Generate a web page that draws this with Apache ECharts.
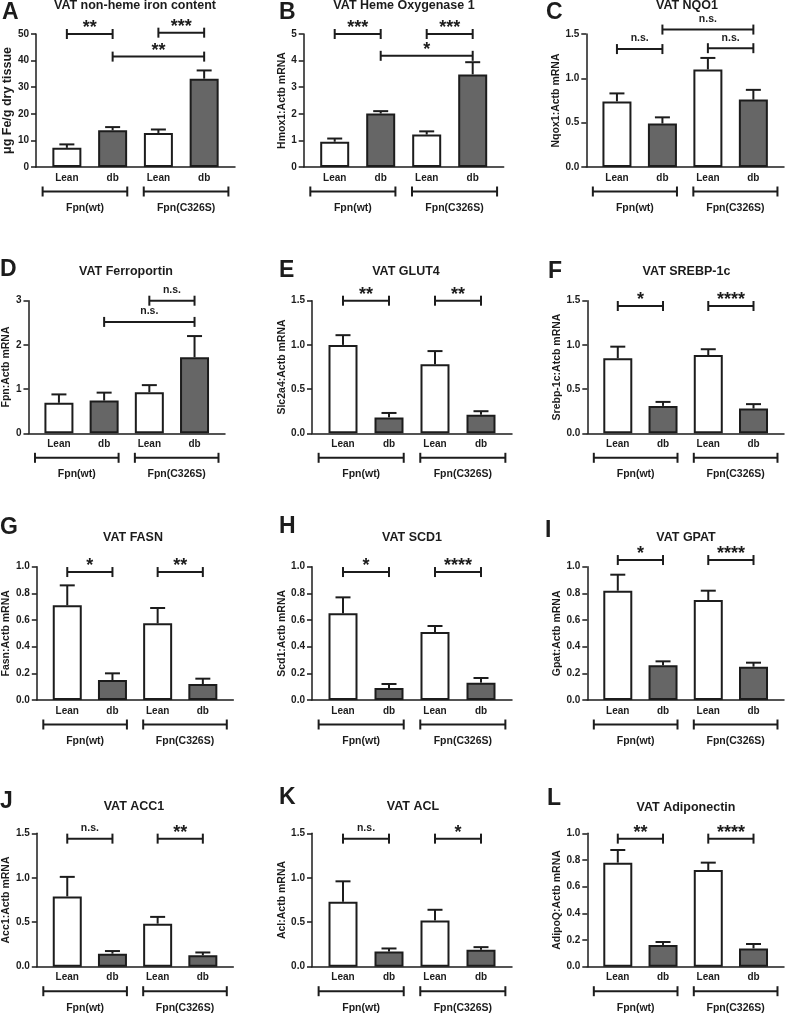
<!DOCTYPE html>
<html><head><meta charset="utf-8">
<script src="https://cdn.jsdelivr.net/npm/echarts@6/dist/echarts.min.js"></script>
<style>html,body{margin:0;padding:0;background:#fff}#c{width:787px;height:1013px}</style>
</head><body><div id="c"></div>
<script>
// ---------- DATA ----------
const categories = ['Lean', 'db', 'Lean', 'db'];
const groupLabels = ['Fpn(wt)', 'Fpn(C326S)'];
const groupSpans = [[-0.53, 1.32], [1.68, 3.53]];
const panelLetters = ['A','B','C','D','E','F','G','H','I','J','K','L'];
const panelTitles = ['VAT non-heme iron content','VAT Heme Oxygenase 1','VAT NQO1','VAT Ferroportin','VAT GLUT4','VAT SREBP-1c','VAT FASN','VAT SCD1','VAT GPAT','VAT ACC1','VAT ACL','VAT Adiponectin'];
const yAxisNames = ['\u03bcg Fe/g dry tissue','Hmox1:Actb mRNA','Nqox1:Actb mRNA','Fpn:Actb mRNA','Slc2a4:Actb mRNA','Srebp-1c:Atcb mRNA','Fasn:Actb mRNA','Scd1:Actb mRNA','Gpat:Actb mRNA','Acc1:Actb mRNA','Acl:Actb mRNA','AdipoQ:Actb mRNA'];
const yMax = [50, 5, 1.5, 3, 1.5, 1.5, 1.0, 1.0, 1.0, 1.5, 1.5, 1.0];
const yStep = [10, 1, 0.5, 1, 0.5, 0.5, 0.2, 0.2, 0.2, 0.5, 0.5, 0.2];
const yDecimals = [0, 0, 1, 0, 1, 1, 1, 1, 1, 1, 1, 1];

const ironMean = [7.2, 13.8, 12.8, 33.2];   const ironSem = [1.3, 1.2, 1.3, 3.1];
const hmox1Mean = [0.95, 2.01, 1.22, 3.48];  const hmox1Sem = [0.12, 0.09, 0.12, 0.46];
const nqo1Mean = [0.74, 0.49, 1.10, 0.76];   const nqo1Sem = [0.09, 0.07, 0.13, 0.11];
const fpnMean = [0.69, 0.74, 0.93, 1.72];    const fpnSem = [0.19, 0.18, 0.16, 0.48];
const glut4Mean = [1.00, 0.18, 0.78, 0.21];  const glut4Sem = [0.11, 0.05, 0.15, 0.04];
const srebpMean = [0.85, 0.31, 0.886, 0.28]; const srebpSem = [0.13, 0.045, 0.065, 0.05];
const fasnMean = [0.71, 0.15, 0.575, 0.12];  const fasnSem = [0.15, 0.05, 0.115, 0.04];
const scd1Mean = [0.65, 0.09, 0.51, 0.13];   const scd1Sem = [0.12, 0.03, 0.045, 0.035];
const gpatMean = [0.82, 0.26, 0.75, 0.25];   const gpatSem = [0.12, 0.03, 0.07, 0.03];
const acc1Mean = [0.79, 0.146, 0.484, 0.128]; const acc1Sem = [0.22, 0.03, 0.076, 0.032];
const aclMean = [0.73, 0.17, 0.52, 0.19];    const aclSem = [0.23, 0.035, 0.12, 0.03];
const adipoMean = [0.78, 0.163, 0.725, 0.137]; const adipoSem = [0.095, 0.022, 0.055, 0.033];

// significance brackets: [from, to, y value, label]
const ironSig = [[0,1,50,'**'],[2,3,50.5,'***'],[1,3,41.5,'**']];
const hmox1Sig = [[0,1,5,'***'],[2,3,5,'***'],[1,3,4.18,'*']];
const nqo1Sig = [[0,1,1.33,'n.s.'],[1,3,1.55,'n.s.'],[2,3,1.34,'n.s.']];
const fpnSig = [[2,3,3.0,'n.s.'],[1,3,2.52,'n.s.']];
const glut4Sig = [[0,1,1.5,'**'],[2,3,1.5,'**']];
const srebpSig = [[0,1,1.44,'*'],[2,3,1.44,'****']];
const fasnSig = [[0,1,0.96,'*'],[2,3,0.96,'**']];
const scd1Sig = [[0,1,0.96,'*'],[2,3,0.96,'****']];
const gpatSig = [[0,1,1.05,'*'],[2,3,1.05,'****']];
const acc1Sig = [[0,1,1.44,'n.s.'],[2,3,1.44,'**']];
const aclSig = [[0,1,1.44,'n.s.'],[2,3,1.44,'*']];
const adipoSig = [[0,1,0.96,'**'],[2,3,0.96,'****']];

const allMeans = [ironMean,hmox1Mean,nqo1Mean,fpnMean,glut4Mean,srebpMean,fasnMean,scd1Mean,gpatMean,acc1Mean,aclMean,adipoMean];
const allSems = [ironSem,hmox1Sem,nqo1Sem,fpnSem,glut4Sem,srebpSem,fasnSem,scd1Sem,gpatSem,acc1Sem,aclSem,adipoSem];
const allSigs = [ironSig,hmox1Sig,nqo1Sig,fpnSig,glut4Sig,srebpSig,fasnSig,scd1Sig,gpatSig,acc1Sig,aclSig,adipoSig];

// ---------- LAYOUT ----------
const FONT = '"Liberation Sans", Arial, Helvetica, sans-serif';
const INK = '#1c1c1c';
const GRAY = '#666666';
const axisX = [35, 303.7, 586.3, 25, 312, 587.3, 33.3, 312, 587.3, 33.3, 312, 587.3];
const rowTop = [34, 300.7, 566.7, 833.3];
const rowBottom = [167, 433.3, 700, 966.7];
const titlePos = [[135,6],[404,6],[687,6],[126,272],[406,272],[686.5,272],[133,538],[412,538],[686,538],[134,807],[413,807],[686,808]];
const letterPos = [[2,13],[279,13],[546,13],[0,270],[279,271],[548,272],[0,528],[279,527],[545,531],[0,802],[279,798],[547,799]];
const nameGaps = [19, 13, 24, 15, 21.5, 23.6, 23, 21.5, 23.6, 21, 21.5, 23.6];
const GRID_W = 200, XMIN = -0.674, XMAX = 3.674;

const option = {animation:false, backgroundColor:'#fff', grid:[], xAxis:[], yAxis:[], series:[], graphic:[]};

function txt(text, x, y, font, align, valign) {
  return {type:'text', x, y, style:{text, x:0, y:0, font, fill:INK, align, verticalAlign:valign, textAlign:align, textVerticalAlign:valign}};
}

for (let k = 0; k < 12; k++) {
  const r = Math.floor(k / 3);
  const top = rowTop[r], bottom = rowBottom[r];
  option.grid.push({left: axisX[k], top: top, width: GRID_W, height: bottom - top});
  option.xAxis.push({
    type:'value', gridIndex:k, min:XMIN, max:XMAX, splitNumber:4,
    axisLine:{onZero:false, lineStyle:{color:INK, width:1.5}},
    axisTick:{show:false}, splitLine:{show:false},
    axisLabel:{formatter: v => (Math.abs(v - Math.round(v)) < 1e-6 && v > -0.5 && v < 3.5) ? categories[Math.round(v)] : '',
      color:INK, fontFamily:FONT, fontWeight:'bold', fontSize:10, margin:6}
  });
  const dec = yDecimals[k];
  option.yAxis.push({
    type:'value', gridIndex:k, min:0, max:yMax[k], interval:yStep[k],
    axisLine:{show:true, onZero:false, lineStyle:{color:INK, width:1.5}},
    axisTick:{show:true, length:5, lineStyle:{color:INK, width:1.5}},
    splitLine:{show:false},
    axisLabel:{formatter: v => v.toFixed(dec), color:INK, fontFamily:FONT, fontWeight:'bold', fontSize:10, margin:7},
    name: yAxisNames[k], nameLocation:'middle', nameRotate:90, nameGap:nameGaps[k],
    nameTextStyle: k === 0 ? {fontFamily:FONT, fontWeight:'bold', fontSize:12.5, color:INK}
                           : {fontFamily:FONT, fontWeight:'bold', fontSize:10.5, color:INK}
  });
  const means = allMeans[k], sems = allSems[k];
  option.series.push({
    type:'bar', xAxisIndex:k, yAxisIndex:k, barWidth:29, z:2,
    itemStyle:{borderColor:INK, borderWidth:2},
    data: means.map((m, i) => ({value:[i, m], itemStyle:{color: i % 2 ? GRAY : '#ffffff', borderColor:INK, borderWidth:2}}))
  });
  option.series.push({
    type:'custom', xAxisIndex:k, yAxisIndex:k, z:3, clip:false,
    encode:{x:0, y:[1,2]},
    data: means.map((m, i) => [i, m, m + sems[i]]),
    renderItem: (params, api) => {
      const x = api.value(0);
      const lo = api.coord([x, api.value(1)]), hi = api.coord([x, api.value(2)]);
      const hw = 7.5;
      return {type:'group', children:[
        {type:'line', shape:{x1:lo[0], y1:lo[1], x2:hi[0], y2:hi[1]}, style:{stroke:INK, lineWidth:2}},
        {type:'line', shape:{x1:hi[0]-hw, y1:hi[1], x2:hi[0]+hw, y2:hi[1]}, style:{stroke:INK, lineWidth:2}}
      ]};
    }
  });
  const sigs = allSigs[k];
  option.series.push({
    type:'custom', xAxisIndex:k, yAxisIndex:k, z:4, clip:false,
    encode:{x:[0,1], y:2},
    data: sigs.map(s => [s[0], s[1], s[2]]),
    renderItem: (params, api) => {
      const a = api.coord([api.value(0), api.value(2)]), b = api.coord([api.value(1), api.value(2)]);
      const label = sigs[params.dataIndex][3];
      const isNs = label === 'n.s.';
      const cx = (a[0] + b[0]) / 2;
      const ty = isNs ? a[1] - 10.5 : a[1] - 6;
      return {type:'group', children:[
        {type:'line', shape:{x1:a[0], y1:a[1], x2:b[0], y2:b[1]}, style:{stroke:INK, lineWidth:2}},
        {type:'line', shape:{x1:a[0], y1:a[1]-5, x2:a[0], y2:a[1]+5}, style:{stroke:INK, lineWidth:2}},
        {type:'line', shape:{x1:b[0], y1:b[1]-5, x2:b[0], y2:b[1]+5}, style:{stroke:INK, lineWidth:2}},
        {type:'text', style:{text:label, x:cx, y:ty, font: isNs ? 'bold 10.5px ' + FONT : 'bold 18px ' + FONT,
          fill:INK, align:'center', verticalAlign:'middle', textAlign:'center', textVerticalAlign:'middle'}}
      ]};
    }
  });
  option.series.push({
    type:'custom', xAxisIndex:k, yAxisIndex:k, z:4, clip:false,
    encode:{x:[0,1], y:2},
    data: groupSpans.map(g => [g[0], g[1], 0]),
    renderItem: (params, api) => {
      const a = api.coord([api.value(0), 0]), b = api.coord([api.value(1), 0]);
      const y = a[1] + 24.5;
      const cx = (a[0] + b[0]) / 2;
      return {type:'group', children:[
        {type:'line', shape:{x1:a[0], y1:y, x2:b[0], y2:y}, style:{stroke:INK, lineWidth:2}},
        {type:'line', shape:{x1:a[0], y1:y-5, x2:a[0], y2:y+5}, style:{stroke:INK, lineWidth:2}},
        {type:'line', shape:{x1:b[0], y1:y-5, x2:b[0], y2:y+5}, style:{stroke:INK, lineWidth:2}},
        {type:'text', style:{text:groupLabels[params.dataIndex], x:cx, y:a[1] + 41, font:'bold 10.5px ' + FONT,
          fill:INK, align:'center', verticalAlign:'middle', textAlign:'center', textVerticalAlign:'middle'}}
      ]};
    }
  });
  option.graphic.push(txt(panelTitles[k], titlePos[k][0], titlePos[k][1], 'bold 12.5px ' + FONT, 'center', 'middle'));
  option.graphic.push(txt(panelLetters[k], letterPos[k][0], letterPos[k][1], 'bold 23px ' + FONT, 'left', 'middle'));
}

const chart = echarts.init(document.getElementById('c'));
chart.setOption(option);
</script></body></html>
